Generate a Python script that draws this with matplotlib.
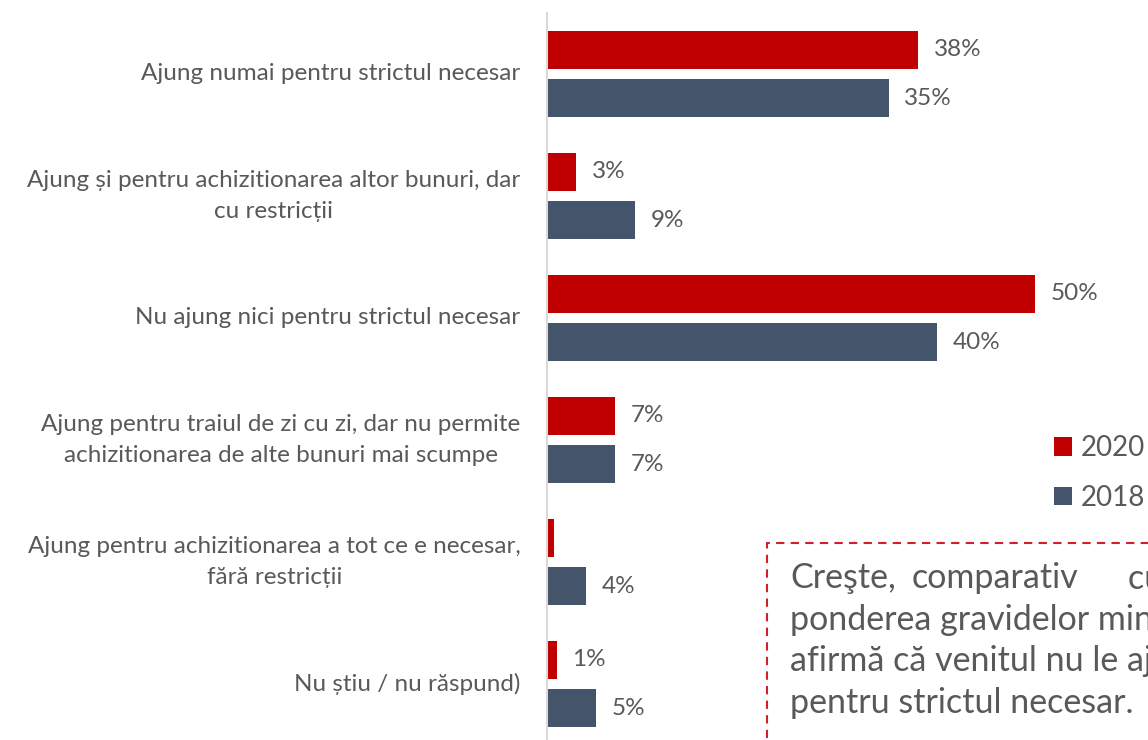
import matplotlib
matplotlib.use("Agg")
import matplotlib.pyplot as plt
from matplotlib.patches import Patch, Rectangle
import numpy as np

categories = [
    "Ajung numai pentru strictul necesar",
    "Ajung și pentru achizitionarea altor bunuri, dar\ncu restricții",
    "Nu ajung nici pentru strictul necesar",
    "Ajung pentru traiul de zi cu zi, dar nu permite\nachizitionarea de alte bunuri mai scumpe",
    "Ajung pentru achizitionarea a tot ce e necesar,\nfără restricții",
    "Nu știu / nu răspund)",
]
values_2020 = [38, 3, 50, 7, 0.7, 1]
values_2018 = [35, 9, 40, 7, 4, 5]
labels_2020 = ["38%", "3%", "50%", "7%", "", "1%"]
labels_2018 = ["35%", "9%", "40%", "7%", "4%", "5%"]
series_names = ["2020", "2018"]

C2020 = "#C00000"
C2018 = "#44546A"
TXT = "#595959"
FONT = "Lato"

W, H = 1148, 740
fig = plt.figure(figsize=(W / 100, H / 100), dpi=100)
left = 547 / W
top = 13 / H
bottom = 745 / H
ax = fig.add_axes([left, 1 - bottom, 1 - left, bottom - top])

y = np.arange(len(categories))
bh = 0.311
off = 0.197
ax.barh(y - off, values_2020, height=bh, color=C2020)
ax.barh(y + off, values_2018, height=bh, color=C2018)

for yi, v, lab in zip(y, values_2020, labels_2020):
    if lab:
        ax.text(v + 1.6, yi - off, lab, va="center", ha="left", fontsize=17.5, color=TXT, family=FONT)
for yi, v, lab in zip(y, values_2018, labels_2018):
    ax.text(v + 1.6, yi + off, lab, va="center", ha="left", fontsize=17.5, color=TXT, family=FONT)

ax.set_ylim(len(categories) - 0.5, -0.5)
ax.set_xlim(0, (W - 547) / 9.76)
ax.set_yticks([])
ax.set_xticks([])
for yi, cat in zip(y, categories):
    ax.annotate(cat, xy=(0, yi), xycoords=ax.get_yaxis_transform(), xytext=(-19, 0),
                textcoords="offset points", ha="right", va="center", multialignment="center",
                fontsize=17.5, color=TXT, family=FONT, linespacing=1.55, annotation_clip=False)
for s in ["top", "right", "bottom"]:
    ax.spines[s].set_visible(False)
ax.spines["left"].set_color("#D9D9D9")
ax.spines["left"].set_linewidth(1.5)

handles = [Patch(facecolor=C2020), Patch(facecolor=C2018)]
fig.legend(handles, series_names, loc="upper left", bbox_to_anchor=(1054 / W, 1 - 435 / H),
           frameon=False, labelcolor=TXT, prop={"family": FONT, "size": 20},
           handlelength=0.65, handleheight=0.65, handletextpad=0.3, labelspacing=0.85,
           borderaxespad=0, borderpad=0)

# dashed comment box
rect = Rectangle((767 / W, -0.1), 0.5, (1 - 543 / H) + 0.1, transform=fig.transFigure,
                 fill=False, edgecolor="#D0202A", linestyle=(0, (4, 3)), linewidth=1.5)
fig.add_artist(rect)

box_lines = [
    [("Creşte,", 790), ("comparativ", 912), ("cu 2018,", 1128)],
    [("ponderea gravidelor minore care", 790)],
    [("afirmă că venitul nu le ajunge nici", 790)],
    [("pentru strictul necesar.", 790)],
]
line_y = [578, 620, 661, 703]
for words, yy in zip(box_lines, line_y):
    for w, xx in words:
        fig.text(xx / W, 1 - yy / H, w, fontsize=24.5, color=TXT, family=FONT, ha="left", va="center")

fig.savefig("out.png", dpi=100)
